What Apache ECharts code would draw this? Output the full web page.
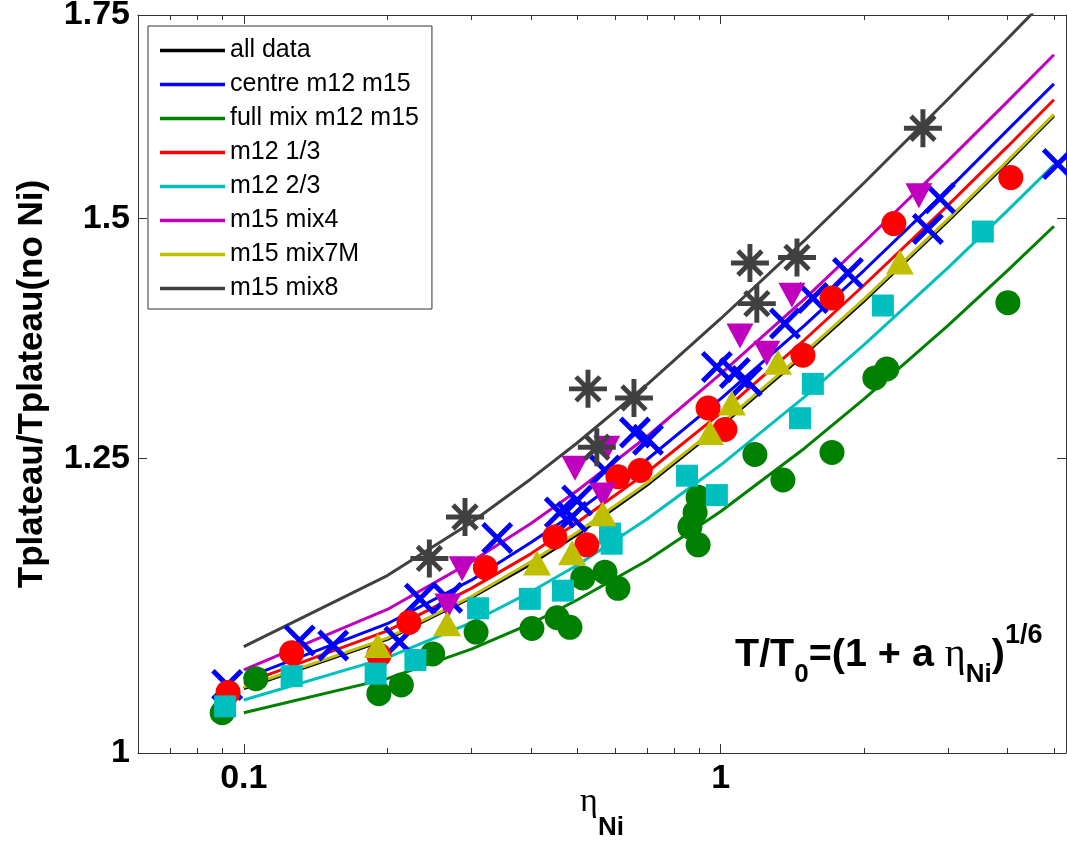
<!DOCTYPE html>
<html><head><meta charset="utf-8">
<script src="https://cdn.jsdelivr.net/npm/echarts@6/dist/echarts.min.js"></script>
<style>html,body{margin:0;padding:0;background:#fff;overflow:hidden;}#c{width:1067px;height:844px;}</style>
</head><body><div id="c"></div>
<script>
// ---- fit curves (eta grid and fitted T/T0) ----
const fitEta = [0.1, 0.2, 0.3, 0.4, 0.5, 0.7, 1, 1.5, 2, 3, 4, 5];
const fitAllData = [1.050, 1.090, 1.125, 1.154, 1.180, 1.225, 1.281, 1.353, 1.409, 1.497, 1.565, 1.621];
const fitCentre  = [1.058, 1.103, 1.140, 1.173, 1.201, 1.249, 1.308, 1.383, 1.442, 1.533, 1.604, 1.661];
const fitFullMix = [1.031, 1.058, 1.082, 1.103, 1.123, 1.157, 1.201, 1.260, 1.308, 1.383, 1.442, 1.491];
const fitM12a    = [1.054, 1.097, 1.133, 1.163, 1.191, 1.237, 1.294, 1.368, 1.426, 1.515, 1.584, 1.641];
const fitM12b    = [1.041, 1.075, 1.104, 1.130, 1.153, 1.194, 1.244, 1.310, 1.363, 1.445, 1.509, 1.562];
const fitMix4    = [1.065, 1.115, 1.156, 1.190, 1.220, 1.271, 1.333, 1.411, 1.473, 1.567, 1.639, 1.698];
const fitMix7M   = [1.051, 1.091, 1.126, 1.156, 1.182, 1.227, 1.283, 1.355, 1.411, 1.499, 1.567, 1.623];
const fitMix8    = [1.084, 1.144, 1.191, 1.231, 1.265, 1.322, 1.390, 1.475, 1.541, 1.642, 1.719, 1.782];

// ---- measured points [eta, T/T0] ----
const ptsCentre = [[0.0923,1.053],[0.131,1.089],[0.154,1.085],[0.212,1.088],[0.234,1.124],[0.267,1.125],
  [0.340,1.177],[0.460,1.200],[0.500,1.211],[0.488,1.196],[0.572,1.239],[0.661,1.275],[0.704,1.268],
  [0.982,1.340],[1.071,1.334],[1.135,1.326],[1.364,1.385],[1.561,1.412],[1.849,1.439],[2.720,1.488],
  [2.883,1.523],[5.095,1.563]];
const ptsFullMix = [[0.0901,1.031],[0.106,1.058],[0.192,1.046],[0.214,1.053],[0.249,1.078],[0.307,1.096],
  [0.402,1.099],[0.454,1.108],[0.483,1.100],[0.514,1.142],[0.572,1.147],[0.609,1.133],[0.862,1.187],
  [0.884,1.200],[0.897,1.214],[0.897,1.171],[1.180,1.254],[1.351,1.230],[1.712,1.256],[2.106,1.329],
  [2.231,1.338],[4.003,1.407]];
const ptsM12a = [[0.0927,1.047],[0.126,1.079],[0.192,1.077],[0.222,1.104],[0.321,1.151],[0.449,1.178],
  [0.524,1.171],[0.609,1.233],[0.678,1.239],[0.941,1.299],[1.021,1.278],[1.488,1.352],[1.712,1.412],
  [2.308,1.494],[4.061,1.547]];
const ptsM12b = [[0.0914,1.036],[0.126,1.060],[0.189,1.062],[0.229,1.073],[0.310,1.116],[0.398,1.124],
  [0.467,1.131],[0.586,1.181],[0.591,1.172],[0.850,1.234],[0.982,1.216],[1.467,1.289],[1.561,1.323],
  [2.189,1.404],[3.547,1.485]];
const ptsMix4 = [[0.268,1.118],[0.287,1.150],[0.495,1.241],[0.566,1.216],[0.577,1.260],[1.098,1.372],
  [1.250,1.354],[1.411,1.415],[2.605,1.526]];
const ptsMix7M = [[0.191,1.085],[0.267,1.103],[0.412,1.155],[0.488,1.164],[0.566,1.199],[0.950,1.275],
  [1.056,1.304],[1.319,1.345],[2.376,1.451]];
const ptsMix8 = [[0.245,1.159],[0.291,1.196],[0.527,1.318],[0.550,1.261],[0.658,1.309],[1.152,1.450],
  [1.191,1.406],[1.446,1.456],[2.656,1.606]];

// ---- axes ticks / labels ----
const xMajorTicks = [0.1, 1];
const xMajorLabels = ['0.1', '1'];
const xMinorTicks = [0.07, 0.08, 0.09, 0.2, 0.3, 0.4, 0.5, 0.6, 0.7, 0.8, 0.9, 2, 3, 4, 5];
const yTicks = [1, 1.25, 1.5, 1.75];
const yTickLabels = ['1', '1.25', '1.5', '1.75'];
const seriesNames = ['all data', 'centre m12 m15', 'full mix m12 m15', 'm12 1/3', 'm12 2/3', 'm15 mix4', 'm15 mix7M', 'm15 mix8'];
const seriesColors = ['#000000', '#0000ff', '#008000', '#ff0000', '#00bfbf', '#bf00bf', '#bfbf00', '#404040'];

const X_SYMBOL = 'path://M0,11L11,0L100,89L89,100Z M89,0L100,11L11,100L0,89Z';
const STAR_SYMBOL = 'path://M0,43.5L100,43.5L100,56.5L0,56.5Z M43.5,0L56.5,0L56.5,100L43.5,100Z M14,23L23,14L86,77L77,86Z M77,14L86,23L23,86L14,77Z';

const FONT = 'Liberation Sans';
const axisCol = '#333333';
const fits = [fitAllData, fitCentre, fitFullMix, fitM12a, fitM12b, fitMix4, fitMix7M, fitMix8];

const chart = echarts.init(document.getElementById('c'), null, {renderer: 'canvas'});

function lbl(vals, labels) {
  return function (v) {
    for (let i = 0; i < vals.length; i++) if (Math.abs(vals[i] - v) < 1e-6) return labels[i];
    return '';
  };
}
const xBase = {type: 'log', logBase: 10, min: 0.06, max: 5.3, gridIndex: 0, splitLine: {show: false}};
const yBase = {type: 'log', logBase: 10, min: 1, max: 1.75, gridIndex: 0, splitLine: {show: false}};

const series = [];
fits.forEach(function (arr, i) {
  series.push({
    name: seriesNames[i], type: 'line', xAxisIndex: 0, yAxisIndex: 0,
    data: fitEta.map(function (e, k) { return [e, arr[k]]; }),
    showSymbol: false, symbol: 'none', z: 2, silent: true,
    lineStyle: {color: seriesColors[i], width: 3}, itemStyle: {color: seriesColors[i]}
  });
});
function sc(name, data, symbol, size, color, rot) {
  series.push({name: name, type: 'scatter', xAxisIndex: 0, yAxisIndex: 0, data: data,
    symbol: symbol, symbolSize: size, symbolRotate: rot || 0, symbolKeepAspect: true, z: 3, silent: true,
    itemStyle: {color: color, opacity: 1}});
}
sc('centre pts', ptsCentre, X_SYMBOL, 32, '#0000ff');
sc('full mix pts', ptsFullMix, 'circle', 25, '#008000');
sc('m12 1/3 pts', ptsM12a, 'circle', 25, '#ff0000');
sc('m12 2/3 pts', ptsM12b, 'rect', 22, '#00bfbf');
sc('mix4 pts', ptsMix4, 'triangle', [27, 25], '#bf00bf', 180);
sc('mix7M pts', ptsMix7M, 'triangle', [28, 25], '#bfbf00');
sc('mix8 pts', ptsMix8, STAR_SYMBOL, 38, '#404040');

const option = {
  animation: false,
  backgroundColor: '#ffffff',
  grid: {left: 138, right: 1, top: 15, bottom: 91, containLabel: false, outerBoundsMode: 'none'},
  legend: {
    data: seriesNames, orient: 'vertical', left: 148, top: 26,
    icon: 'rect', itemWidth: 65, itemHeight: 3.5, itemGap: 9.0, selectedMode: false,
    padding: [12, 13, 8, 12], borderColor: '#333333', borderWidth: 1, backgroundColor: '#ffffff',
    textStyle: {fontFamily: FONT, fontSize: 25, color: '#000000'}
  },
  xAxis: [
    Object.assign({}, xBase, {
      position: 'bottom',
      axisLine: {show: true, lineStyle: {color: axisCol, width: 1}},
      axisTick: {show: true, inside: true, length: 9, customValues: xMajorTicks, lineStyle: {color: axisCol, width: 1}},
      axisLabel: {show: true, customValues: xMajorTicks, formatter: lbl(xMajorTicks, xMajorLabels), margin: 9,
        fontFamily: FONT, fontWeight: 'bold', fontSize: 34, color: '#000000'},
      name: '{e|η}{s|Ni}', nameLocation: 'middle', nameGap: 32, nameMoveOverlap: false,
      nameTextStyle: {rich: {
        e: {fontFamily: 'Liberation Serif', fontSize: 34, color: '#000', verticalAlign: 'top', lineHeight: 34},
        s: {fontFamily: FONT, fontWeight: 'bold', fontSize: 26, color: '#000', verticalAlign: 'bottom', padding: [30, 0, 0, 0]}
      }}
    }),
    Object.assign({}, xBase, {
      position: 'bottom', axisLine: {show: false},
      axisTick: {show: true, inside: true, length: 5, customValues: xMinorTicks, lineStyle: {color: axisCol, width: 1}},
      axisLabel: {show: false}
    }),
    Object.assign({}, xBase, {
      position: 'top',
      axisLine: {show: true, lineStyle: {color: axisCol, width: 1}},
      axisTick: {show: true, inside: true, length: 9, customValues: xMajorTicks, lineStyle: {color: axisCol, width: 1}},
      axisLabel: {show: false}
    }),
    Object.assign({}, xBase, {
      position: 'top', axisLine: {show: false},
      axisTick: {show: true, inside: true, length: 5, customValues: xMinorTicks, lineStyle: {color: axisCol, width: 1}},
      axisLabel: {show: false}
    })
  ],
  yAxis: [
    Object.assign({}, yBase, {
      position: 'left',
      axisLine: {show: true, lineStyle: {color: axisCol, width: 1}},
      axisTick: {show: true, inside: true, length: 9, customValues: yTicks, lineStyle: {color: axisCol, width: 1}},
      axisLabel: {show: true, customValues: yTicks, formatter: lbl(yTicks, yTickLabels), margin: 8,
        fontFamily: FONT, fontWeight: 'bold', fontSize: 34, color: '#000000'},
      name: 'Tplateau/Tplateau(no Ni)', nameLocation: 'middle', nameGap: 88, nameMoveOverlap: false,
      nameTextStyle: {fontFamily: FONT, fontWeight: 'bold', fontSize: 35, color: '#000000'}
    }),
    Object.assign({}, yBase, {
      position: 'right',
      axisLine: {show: true, lineStyle: {color: axisCol, width: 1}},
      axisTick: {show: true, inside: true, length: 9, customValues: yTicks, lineStyle: {color: axisCol, width: 1}},
      axisLabel: {show: false}
    })
  ],
  graphic: [{
    type: 'text', left: 735, top: 622, silent: true,
    style: {
      text: '{m|T/T}{s|0}{m|=(1 + a }{e|η}{s|Ni}{m|)}{p|1/6}',
      rich: {
        m: {fontFamily: FONT, fontWeight: 'bold', fontSize: 39.5, fill: '#000', verticalAlign: 'middle'},
        e: {fontFamily: 'Liberation Serif', fontSize: 40, fill: '#000', verticalAlign: 'middle'},
        s: {fontFamily: FONT, fontWeight: 'bold', fontSize: 26, fill: '#000', verticalAlign: 'bottom', padding: [40, 0, 0, 0]},
        p: {fontFamily: FONT, fontWeight: 'bold', fontSize: 27, fill: '#000', verticalAlign: 'top'}
      }
    }
  }],
  series: series
};
chart.setOption(option);
</script></body></html>
